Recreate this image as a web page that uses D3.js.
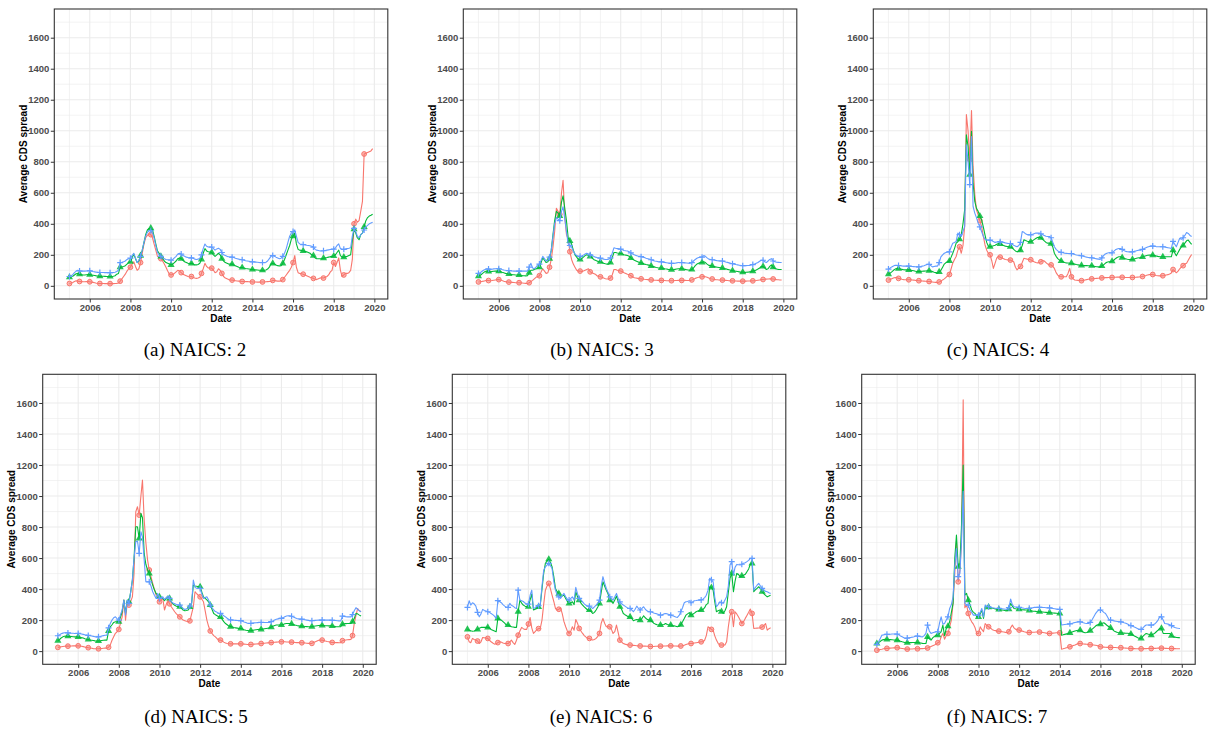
<!DOCTYPE html>
<html><head><meta charset="utf-8">
<script src="https://cdn.jsdelivr.net/npm/d3@7"></script>
<style>
body{margin:0;background:#fff}
svg{display:block}
</style></head><body>
<svg id="chart" width="1208" height="735"></svg>
<script>
// ---------------- DATA (monthly, Jan 2005 .. Dec 2019) ----------------
const panelCodes = ["2","3","4","5","6","7"];
const panelLetters = ["a","b","c","d","e","f"];
const yTickValues = [0,200,400,600,800,1000,1200,1400,1600];
const xTickYears = [2006,2008,2010,2012,2014,2016,2018,2020];

const naics2Red = [
15,18,22,28,32,30,28,27,26,26,27,28,
26,24,22,20,17,15,15,15,15,14,14,14,
14,14,14,15,16,18,30,45,60,75,95,110,
120,140,155,125,100,110,150,210,270,310,325,335,
330,310,270,230,190,185,175,160,140,120,95,75,
70,75,80,90,100,95,85,75,70,65,60,58,
60,55,50,48,50,55,80,110,145,125,115,115,
114,100,85,90,110,100,80,60,50,45,40,38,
37,35,33,31,30,29,28,28,27,27,26,26,
25,25,25,24,24,25,25,25,26,27,28,30,
35,34,32,30,30,32,40,55,70,85,100,120,
150,195,120,85,80,78,75,70,65,60,55,52,
48,42,40,45,50,52,50,55,60,70,90,100,
150,125,150,180,100,60,70,80,80,85,100,170,
400,430,410,420,480,545,850,855,860,865,870,885];
const naics2Green = [
55,58,62,70,78,80,75,72,70,70,71,72,
72,70,68,66,64,63,62,62,62,61,60,60,
60,60,62,65,75,80,120,122,125,130,140,150,
155,180,205,175,150,160,195,230,280,330,360,370,
372,360,320,270,225,210,190,175,160,150,145,140,
135,140,150,160,175,180,175,165,155,150,145,142,
145,140,135,135,138,145,170,210,240,225,220,218,
215,200,190,200,210,200,175,160,150,145,140,140,
140,135,130,125,120,118,118,115,112,110,108,106,
105,104,103,102,100,100,100,100,102,108,120,140,
145,140,135,130,128,130,145,170,200,230,260,300,
320,340,270,235,230,228,225,222,220,215,210,200,
195,180,175,175,175,175,178,180,182,185,188,190,
192,200,215,230,195,185,185,188,190,195,200,290,
365,340,310,297,330,340,380,420,440,450,455,462];
const naics2Blue = [
60,65,72,85,95,100,96,94,95,95,96,97,
97,95,92,90,88,87,86,86,86,85,85,85,
85,85,86,88,92,100,150,152,155,160,170,175,
178,195,210,180,150,165,190,230,280,320,345,355,
355,345,310,260,215,200,190,180,175,170,168,168,
165,170,180,190,205,210,205,195,190,185,182,180,
180,178,172,170,172,178,200,240,270,255,250,250,
250,240,230,238,242,235,215,200,195,190,187,185,
185,182,178,175,172,170,168,165,162,160,158,156,
155,154,153,152,150,150,150,150,152,160,175,190,
195,190,185,180,175,178,190,210,240,280,320,340,
350,360,320,280,270,268,266,265,262,260,258,255,
250,235,230,228,225,225,226,228,230,232,234,236,
236,245,260,270,240,235,235,238,240,242,245,320,
370,350,320,310,330,340,360,380,390,400,405,410];

const naics3Red = [
25,26,28,30,33,35,34,33,34,36,38,40,
40,38,34,30,27,25,24,23,22,21,20,20,
20,19,18,17,16,15,20,28,35,45,55,60,
65,90,110,95,80,85,120,170,250,350,500,480,
460,600,680,450,330,300,220,170,140,120,100,95,
95,92,95,100,105,110,90,85,80,75,65,60,
58,55,50,46,44,45,50,70,105,105,100,98,
95,90,85,80,75,72,65,58,52,50,48,46,
45,44,42,41,40,39,38,37,36,36,35,35,
35,34,34,33,33,33,33,33,34,34,35,35,
35,35,35,34,34,35,38,42,48,52,55,57,
58,60,58,55,50,46,44,42,40,39,38,38,
37,36,35,34,33,32,32,31,31,30,30,30,
30,30,30,31,31,32,32,33,34,36,38,40,
41,42,43,44,45,45,44,42,40,39,38,38];
const naics3Green = [
62,68,75,85,92,95,92,90,92,94,95,95,
95,92,88,84,80,78,76,74,72,71,70,70,
70,68,66,65,64,65,85,100,100,105,110,112,
120,150,180,165,150,155,175,230,330,420,480,470,
450,540,580,500,420,310,290,270,230,200,185,170,
170,175,185,195,200,195,190,180,170,165,160,155,
155,150,145,142,140,140,150,180,215,215,212,210,
208,205,200,198,195,190,180,172,165,160,155,150,
148,145,140,137,135,132,128,125,122,118,116,115,
115,113,110,108,106,105,104,104,106,108,110,110,
110,108,106,104,102,100,105,115,130,140,145,150,
150,155,150,140,132,130,128,125,122,120,118,116,
115,112,110,106,103,100,98,96,94,92,90,88,
88,87,87,88,90,92,95,98,102,108,115,125,
125,115,105,110,125,135,120,112,108,106,105,105];
const naics3Blue = [
80,85,92,100,106,110,108,106,107,109,110,110,
110,108,105,102,100,99,98,97,96,95,95,95,
95,95,95,95,95,95,120,145,115,110,120,135,
140,165,190,175,160,165,185,230,320,400,440,430,
420,480,510,430,350,270,260,250,225,205,195,190,
190,192,198,205,210,205,200,195,190,185,182,180,
178,175,172,170,170,172,180,210,245,242,240,238,
236,232,228,226,225,220,212,205,200,196,192,190,
188,185,182,178,175,172,168,164,160,158,156,155,
155,153,151,149,147,145,145,145,146,148,150,150,
150,149,148,147,146,145,150,160,170,178,183,185,
185,195,190,180,172,170,168,166,164,162,161,160,
160,157,154,151,148,145,143,140,137,135,133,131,
130,130,130,131,132,135,137,140,145,150,158,165,
165,155,150,160,170,175,160,155,152,151,150,150];

const naics4Red = [
37,40,45,50,54,52,48,45,42,40,39,39,
39,39,38,37,35,34,33,32,31,30,29,28,
28,27,25,23,22,21,25,30,38,45,55,65,
73,110,146,170,189,230,252,210,260,383,1105,1000,
813,1130,770,590,490,458,420,383,320,265,230,210,
200,160,112,146,180,189,185,180,175,170,168,166,
166,160,155,120,103,115,125,150,178,175,172,170,
168,162,155,150,148,150,155,163,160,150,140,135,
135,125,112,85,69,60,58,58,58,59,80,112,
58,45,38,36,35,34,33,35,38,40,42,44,
45,46,47,48,49,50,51,52,53,53,54,54,
54,55,55,56,56,56,55,55,54,54,54,54,
54,54,55,56,57,58,60,63,66,70,72,73,
73,70,67,65,64,64,65,67,70,72,76,82,
105,95,84,95,110,122,130,140,146,165,185,202];
const naics4Green = [
75,82,90,100,108,112,110,108,106,104,103,103,
103,101,99,97,94,92,92,93,94,95,96,97,
97,95,92,88,85,82,90,100,120,140,150,155,
160,185,210,240,275,284,300,329,400,490,974,900,
716,996,662,544,500,480,450,426,380,329,280,255,
252,255,258,262,268,273,270,265,260,256,254,252,
252,245,235,225,219,225,230,260,297,292,288,285,
284,290,298,305,312,314,310,300,290,280,275,275,
272,250,210,190,175,166,160,155,150,148,147,146,
146,143,140,137,135,133,132,131,130,130,129,129,
129,127,125,123,122,122,128,135,145,152,155,155,
158,165,175,183,187,187,182,178,174,171,170,170,
170,173,176,179,181,183,186,190,194,197,198,198,
198,196,193,190,188,187,187,187,187,187,187,187,
230,212,194,215,235,252,260,275,290,295,280,267];
const naics4Blue = [
108,115,122,128,132,133,131,129,128,127,127,127,
127,126,125,124,123,122,122,124,127,130,134,138,
138,130,122,125,127,127,150,187,200,210,215,219,
219,250,275,280,286,340,330,318,350,383,910,800,
652,963,512,469,440,404,380,350,320,300,295,295,
295,290,285,280,283,286,284,282,280,277,275,273,
273,268,262,256,252,260,280,350,345,335,330,329,
329,332,336,340,340,340,335,330,325,320,318,318,
310,280,252,235,225,219,216,213,210,209,208,208,
208,205,202,199,197,196,194,191,188,185,183,181,
181,178,176,174,172,170,180,195,205,210,213,213,
213,222,232,238,241,241,235,228,222,220,219,219,
219,222,225,228,230,230,235,240,245,250,254,256,
256,255,253,252,252,252,252,250,248,246,244,241,
286,268,252,280,307,300,310,325,344,338,325,318];

const naics5Red = [
24,26,28,30,31,32,32,33,33,34,34,34,
34,33,31,29,26,24,22,20,18,16,15,15,
15,16,17,18,19,19,25,40,70,92,115,125,
140,180,221,329,200,318,297,320,350,500,899,931,
877,1000,1103,845,700,587,523,480,437,400,361,340,
318,330,340,265,300,329,305,286,270,254,240,230,
221,210,200,196,192,189,195,240,286,383,370,360,
350,335,318,260,200,160,130,114,100,92,80,71,
71,65,58,52,49,48,47,47,47,47,47,47,
47,46,45,44,43,43,43,44,45,46,47,48,
49,50,51,52,53,54,55,56,57,58,59,60,
60,60,60,59,59,58,58,57,56,55,55,54,
54,53,52,51,50,49,50,55,60,65,70,71,
71,68,65,62,60,58,56,56,55,55,54,54,
67,70,72,73,74,75,100,178,230,275,260,254];
const naics5Green = [
67,75,85,92,96,97,96,95,94,93,92,92,
92,90,87,84,80,77,75,72,70,68,66,65,
65,66,68,70,71,71,130,157,170,185,189,189,
189,220,254,329,243,329,318,380,458,600,802,802,
727,888,860,630,560,523,501,460,426,395,372,360,
350,345,340,325,340,355,340,318,305,295,290,286,
286,275,265,260,262,265,285,308,426,420,418,415,
415,380,350,340,330,318,297,270,243,235,228,221,
221,205,190,178,170,161,158,155,152,150,148,146,
146,142,138,135,133,131,132,134,136,138,139,140,
140,142,144,146,148,150,155,160,165,168,168,168,
168,172,176,178,178,178,175,172,168,165,163,161,
161,160,159,158,157,157,158,160,162,164,165,166,
166,165,164,164,163,163,162,160,158,157,157,157,
174,176,177,178,178,178,190,210,243,240,232,226];
const naics5Blue = [
99,105,112,116,118,118,117,116,115,115,114,114,
114,112,110,108,105,103,101,99,97,95,93,92,
92,94,97,100,102,103,150,178,200,215,221,210,
200,235,265,329,232,329,308,380,458,600,705,710,
630,770,737,587,447,447,447,420,383,360,340,372,
340,345,350,333,345,355,340,318,310,305,300,297,
297,285,275,269,272,275,290,308,458,411,405,404,
404,370,340,345,350,330,297,280,265,255,250,243,
243,235,228,221,212,204,202,200,199,198,197,196,
196,192,188,185,180,178,179,181,182,183,184,185,
185,185,185,185,185,185,190,195,200,205,208,211,
211,216,222,226,228,228,225,220,215,210,208,206,
206,204,202,200,198,196,196,197,198,199,200,200,
200,200,200,200,200,200,199,198,197,196,195,194,
226,224,222,221,221,221,235,260,280,270,260,254];

const naics6Red = [
92,60,54,82,75,71,65,49,60,88,86,84,
82,70,60,52,45,48,55,60,58,52,49,49,
49,60,71,55,43,70,103,130,153,145,140,140,
175,217,150,114,125,140,145,146,200,300,393,420,
437,400,361,320,275,265,270,279,240,190,157,130,
114,130,157,135,204,180,146,130,114,100,90,82,
82,75,71,75,82,95,114,180,211,180,157,157,
157,140,114,125,168,120,71,60,49,45,42,39,
39,38,37,36,35,34,33,33,32,32,31,31,
30,30,30,31,31,32,32,32,33,33,34,34,
34,34,33,33,32,32,33,35,38,42,46,49,
49,50,52,54,56,58,60,60,70,100,157,150,
140,135,100,71,50,39,39,39,39,60,157,230,
254,157,254,240,221,200,178,190,211,230,250,271,
243,146,147,148,149,150,155,165,178,135,145,150];
const naics6Green = [
140,135,131,128,130,135,140,148,153,153,153,153,
153,150,140,135,130,125,211,204,200,190,180,168,
168,162,157,155,153,153,254,329,310,297,290,286,
286,330,368,265,270,275,285,297,400,500,566,580,
592,570,544,480,404,383,370,350,355,361,340,320,
308,312,318,300,383,350,329,310,297,285,275,265,
265,255,243,250,265,285,308,380,447,420,393,370,
329,320,308,330,355,320,286,270,243,235,228,221,
221,210,196,200,204,202,200,210,228,215,205,200,
200,190,180,174,170,168,168,170,172,178,172,168,
168,165,163,160,157,160,170,189,210,232,240,248,
232,238,245,254,258,262,265,268,280,300,308,415,
410,393,320,254,260,265,255,243,260,286,380,469,
501,383,450,501,495,480,485,490,495,512,530,560,
566,383,395,405,415,405,383,370,360,350,355,361];
const naics6Blue = [
282,325,297,312,305,290,250,221,240,269,262,258,
254,250,243,235,226,211,325,320,312,300,290,282,
282,308,295,290,280,275,393,329,325,320,310,303,
303,360,393,275,280,290,293,297,420,520,544,555,
566,550,533,450,393,361,350,340,360,372,350,335,
329,340,350,329,411,370,340,330,318,305,295,290,
290,282,275,285,297,310,329,420,480,440,404,380,
350,340,329,350,372,340,318,305,297,290,282,275,
275,265,254,270,290,275,265,275,286,270,260,254,
254,250,246,243,240,236,232,235,240,243,240,236,
232,228,225,220,217,230,254,280,312,318,320,325,
312,318,325,326,328,329,330,335,345,360,393,469,
460,447,350,286,300,318,312,308,330,350,420,555,
577,490,540,559,557,555,560,566,570,577,585,598,
598,393,410,425,437,420,404,395,385,383,377,372];

const naics7Red = [
6,8,10,12,15,17,18,18,19,20,21,22,
22,21,19,17,15,13,13,13,14,14,15,15,
15,15,16,16,17,17,20,25,30,35,39,45,
54,60,92,114,77,100,114,157,200,308,500,710,
447,522,700,1620,280,300,243,210,189,174,150,114,
114,157,140,125,178,165,157,150,140,135,132,129,
129,127,125,123,121,120,125,150,168,150,140,138,
136,130,129,125,122,120,120,121,122,122,123,123,
123,122,120,118,116,114,114,115,116,117,118,118,
118,13,15,18,22,25,28,32,36,40,45,49,
49,48,46,45,44,42,41,40,39,38,36,32,
28,27,26,25,24,24,24,23,23,23,22,22,
22,21,20,19,18,17,17,16,16,15,15,15,
15,15,16,16,17,17,17,18,18,18,19,19,
19,19,18,18,17,17,17,16,16,15,15,15];
const naics7Green = [
49,55,62,71,74,77,76,75,74,73,72,71,
71,68,64,60,57,54,54,55,55,56,56,56,
56,54,52,50,49,49,92,80,71,85,95,103,
103,115,125,168,99,146,160,189,250,308,600,748,
544,566,800,1200,361,372,329,300,265,250,243,221,
221,240,265,211,286,286,284,282,278,275,272,269,
269,267,265,263,261,260,270,308,290,275,273,272,
270,268,267,266,265,265,262,260,258,257,256,254,
254,253,252,251,250,249,248,247,246,245,244,243,
243,103,105,108,111,114,118,122,126,130,133,135,
135,128,122,118,120,125,132,140,150,160,168,172,
174,180,183,175,165,157,150,140,130,125,120,118,
118,117,116,115,115,114,110,105,98,92,86,82,
82,95,105,114,110,107,103,108,115,125,135,146,
146,114,114,114,114,114,100,92,90,88,87,86];
const naics7Blue = [
43,60,80,103,105,108,108,109,109,110,110,110,
110,105,98,92,86,82,84,86,88,90,93,97,
97,95,93,92,100,114,168,130,114,118,122,125,
125,180,221,174,178,200,221,275,300,350,550,662,
480,500,700,1030,308,300,297,265,250,232,232,232,
232,250,275,221,297,290,286,283,280,278,276,275,
275,274,273,272,270,269,280,336,300,286,284,282,
282,280,278,276,275,275,276,278,280,282,282,282,
282,282,281,281,280,280,279,277,275,273,271,269,
269,168,170,172,173,174,176,178,182,185,187,189,
189,186,183,180,178,178,185,200,220,240,255,265,
265,260,250,243,225,204,200,197,195,193,191,189,
189,186,183,180,175,168,165,160,155,150,145,140,
140,150,160,168,168,168,168,170,175,185,200,221,
221,200,178,176,174,170,165,157,152,149,147,146];

// ---------------- LAYOUT / STYLE ----------------
const seriesByPanel = [
  [naics2Red, naics2Green, naics2Blue],
  [naics3Red, naics3Green, naics3Blue],
  [naics4Red, naics4Green, naics4Blue],
  [naics5Red, naics5Green, naics5Blue],
  [naics6Red, naics6Green, naics6Blue],
  [naics7Red, naics7Green, naics7Blue]
];
const colors = ["#F8766D", "#00BA38", "#619CFF"];
const frames = [
  {left:54.3, top:9,     capX:195, capY:356},
  {left:463.3, top:9,    capX:602, capY:356},
  {left:873.3, top:9,    capX:998, capY:356},
  {left:42.7, top:374.3, capX:196, capY:723},
  {left:452.3, top:374.3,capX:601, capY:723},
  {left:861.7, top:374.3,capX:997, capY:723}
];
const PW = 333.5, PH = 290;

const monthDates = d3.timeMonths(new Date(2005,0,1), new Date(2020,0,1));
const t0 = +monthDates[0], t1 = +monthDates[monthDates.length-1];
const span = t1 - t0;
const x = d3.scaleTime().domain([new Date(t0 - 0.05*span), new Date(t1 + 0.05*span)]).range([0, PW]);
const yLim = [0, 1700];
const yPad = 0.05*(yLim[1]-yLim[0]);
const y = d3.scaleLinear().domain([yLim[0]-yPad, yLim[1]+yPad]).range([PH, 0]);

const svg = d3.select("#chart");
svg.append("rect").attr("width",1208).attr("height",735).attr("fill","#fff");

const majorX = xTickYears.map(yr => new Date(yr,0,1));
const minorX = d3.range(2005, 2021, 2).map(yr => new Date(yr,0,1));
const minorY = d3.range(100, 1800, 200);

const tri = d3.symbol().type(d3.symbolTriangle).size(22);

seriesByPanel.forEach((series, pi) => {
  const f = frames[pi];
  const g = svg.append("g").attr("transform", `translate(${f.left},${f.top})`);
  g.append("rect").attr("width",PW).attr("height",PH).attr("fill","#fff");
  g.selectAll(".mgy").data(minorY).join("line")
    .attr("x1",0).attr("x2",PW).attr("y1",d=>y(d)).attr("y2",d=>y(d))
    .attr("stroke","#EBEBEB").attr("stroke-width",0.6);
  g.selectAll(".mgx").data(minorX).join("line")
    .attr("y1",0).attr("y2",PH).attr("x1",d=>x(d)).attr("x2",d=>x(d))
    .attr("stroke","#EBEBEB").attr("stroke-width",0.6);
  g.selectAll(".Mgy").data(yTickValues).join("line")
    .attr("x1",0).attr("x2",PW).attr("y1",d=>y(d)).attr("y2",d=>y(d))
    .attr("stroke","#EBEBEB").attr("stroke-width",1.1);
  g.selectAll(".Mgx").data(majorX).join("line")
    .attr("y1",0).attr("y2",PH).attr("x1",d=>x(d)).attr("x2",d=>x(d))
    .attr("stroke","#EBEBEB").attr("stroke-width",1.1);

  const line = d3.line().x((d,i)=>x(monthDates[i])).y(d=>y(d));
  series.forEach((vals, si) => {
    const col = colors[si];
    g.append("path").datum(vals).attr("d", line)
      .attr("fill","none").attr("stroke",col).attr("stroke-width",1.1).attr("stroke-linejoin","round");
    const pts = vals.map((v,i)=>({v,i})).filter(p => p.i % 6 === 0);
    if (si === 0) {
      g.selectAll(null).data(pts).join("circle")
        .attr("cx",p=>x(monthDates[p.i])).attr("cy",p=>y(p.v)).attr("r",2.4)
        .attr("fill",col).attr("fill-opacity",0.55).attr("stroke",col).attr("stroke-width",1);
    } else if (si === 1) {
      g.selectAll(null).data(pts).join("path")
        .attr("d",tri).attr("transform",p=>`translate(${x(monthDates[p.i])},${y(p.v)})`)
        .attr("fill",col).attr("fill-opacity",0.85);
    } else {
      g.selectAll(null).data(pts).join("path")
        .attr("d","M-3,0H3M0,-3V3").attr("transform",p=>`translate(${x(monthDates[p.i])},${y(p.v)})`)
        .attr("stroke",col).attr("stroke-width",1.2).attr("fill","none");
    }
  });

  g.append("rect").attr("width",PW).attr("height",PH).attr("fill","none")
    .attr("stroke","#333333").attr("stroke-width",1.1);

  const ax = g.append("g").attr("transform",`translate(0,${PH})`)
    .call(d3.axisBottom(x).tickValues(majorX).tickFormat(d3.timeFormat("%Y")).tickSize(3.5).tickPadding(1.5));
  const ay = g.append("g")
    .call(d3.axisLeft(y).tickValues(yTickValues).tickFormat(d3.format("d")).tickSize(3.5).tickPadding(1.5));
  [ax, ay].forEach(a => {
    a.select(".domain").remove();
    a.selectAll(".tick line").attr("stroke","#333333").attr("stroke-width",1);
    a.selectAll(".tick text").attr("fill","#4D4D4D")
      .style("font-family","'Liberation Sans', Arial, sans-serif")
      .style("font-weight","bold").style("font-size","9.5px");
  });

  g.append("text").attr("x",PW/2).attr("y",PH+23).attr("text-anchor","middle")
    .style("font-family","'Liberation Sans', Arial, sans-serif").style("font-weight","bold")
    .style("font-size","10px").attr("fill","#000").text("Date");
  g.append("text").attr("transform",`translate(-31,${PH/2}) rotate(-90)`)
    .attr("text-anchor","middle").attr("dy","0.35em")
    .style("font-family","'Liberation Sans', Arial, sans-serif").style("font-weight","bold")
    .style("font-size","10px").attr("fill","#000").text("Average CDS spread");

  svg.append("text").attr("x",f.capX).attr("y",f.capY).attr("text-anchor","middle")
    .style("font-family","'Liberation Serif', 'DejaVu Serif', serif").style("font-size","19px")
    .attr("fill","#000").text(`(${panelLetters[pi]}) NAICS: ${panelCodes[pi]}`);
});
</script>
</body></html>
